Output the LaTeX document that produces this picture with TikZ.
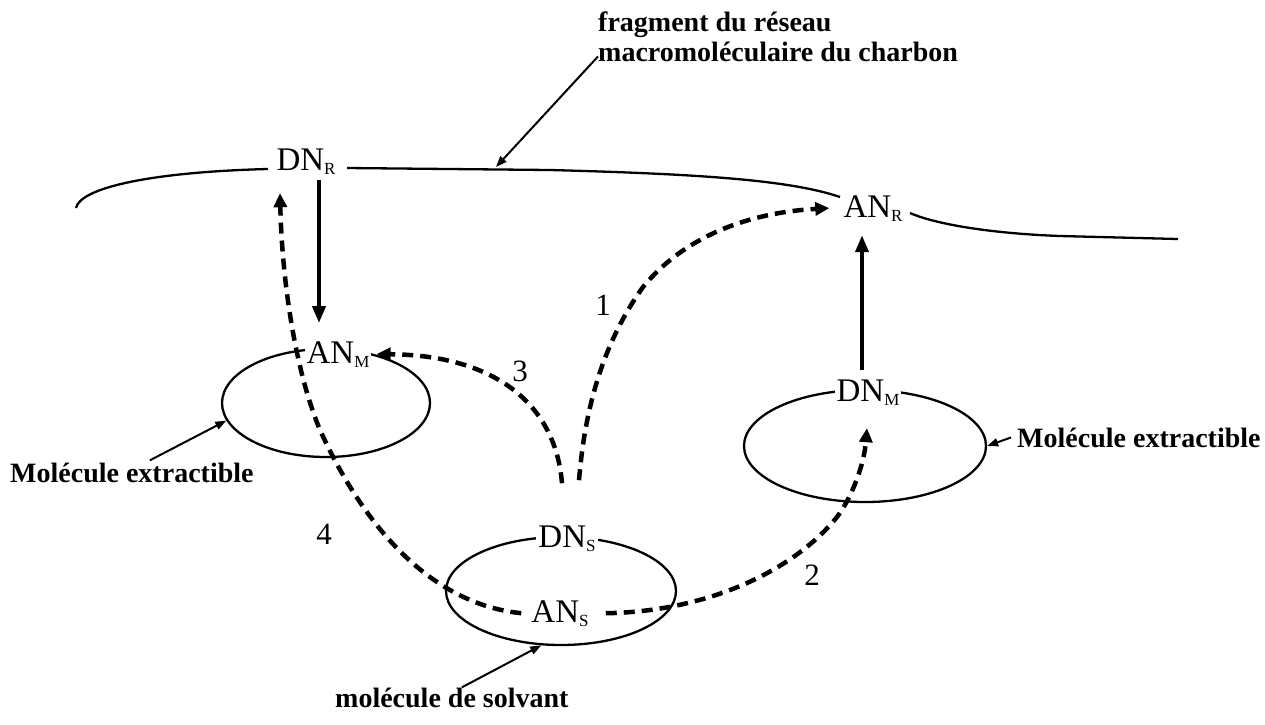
\documentclass[tikz,border=0pt]{standalone}
\usepackage{fontspec}
\setmainfont{Liberation Serif}
\usetikzlibrary{arrows.meta,shapes.geometric,calc}
\newcommand\mysub[1]{\raisebox{-4pt}{\fontsize{17}{17}\selectfont #1}}
\begin{document}
\begin{tikzpicture}[x=1pt,y=-1pt,
  chem/.style={font=\fontsize{33}{33}\selectfont, fill=white, inner sep=2pt, anchor=base},
  lbl/.style={font=\bfseries\fontsize{28}{30}\selectfont, inner sep=0pt, anchor=base west},
  num/.style={font=\fontsize{31}{31}\selectfont, inner sep=0pt},
  mol/.style={draw, ellipse, line width=2.3pt, inner sep=0pt},
  net/.style={line width=2.3pt},
  strong/.style={line width=4pt, -{Triangle[length=17pt,width=13pt]}},
  dsh/.style={line width=4.5pt, dash pattern=on 11pt off 7pt, -{Triangle[length=14pt,width=13pt]}},
  ptr/.style={line width=2pt, -{Triangle[length=11pt,width=8pt]}},
]
\useasboundingbox (0,0) rectangle (1265,724);
% network fragment
\draw[net] (76,208) .. controls (80,188) and (150,172) .. (268,169);
\draw[net] (347,168) -- (550,170) .. controls (700,174) and (790,180) .. (840,197);
\draw[net] (910,213) .. controls (930,222) and (980,233) .. (1060,236) -- (1178,239);
% molecules
\node[mol, minimum width=208pt, minimum height=108pt] (mol1) at (326,403) {};
\node[mol, minimum width=242pt, minimum height=112pt] (mol2) at (865,446) {};
\node[mol, minimum width=230pt, minimum height=108pt] (mol3) at (561,591) {};
% sites
\node[chem] (dnr) at (306,170) {DN\mysub{R}};
\node[chem] (anr) at (873,217) {AN\mysub{R}};
\node[chem] (anm) at (338,363) {AN\mysub{M}};
\node[chem] (dnm) at (868,401) {DN\mysub{M}};
\node[chem] (dns) at (567,547) {DN\mysub{S}};
\node[chem] (ans) at (560,622) {AN\mysub{S}};
% labels
\node[lbl] (fragA) at (598,31) {fragment du réseau};
\node[lbl] (fragB) at (598,61) {macromoléculaire du charbon};
\node[lbl] (labL) at (10,482) {Molécule extractible};
\node[lbl] (labR) at (1017,447) {Molécule extractible};
\node[lbl] (labS) at (335,707) {molécule de solvant};
\coordinate (netpt) at (496,167);
% pointers
\draw[ptr] ([yshift=-5pt]fragB.west) -- (netpt);
\draw[ptr] ([xshift=18pt,yshift=2pt]labL.north) -- (mol1.190);
\draw[ptr] ([xshift=-6pt]labR.west) -- (mol2.east);
\draw[ptr] ([xshift=10pt]labS.north) -- (mol3.250);
% solid transfers
\draw[strong] ([xshift=13pt,yshift=-4pt]dnr.south) -- ([xshift=-19pt,yshift=16pt]anm.north);
\draw[strong] ([xshift=-6pt,yshift=7pt]dnm.north) -- ([xshift=-11pt,yshift=-12pt]anr.south);
% dashed transfers
\draw[dsh] ([xshift=12pt,yshift=43pt]dns.north) .. controls (584,420) and (598,350) .. (643,287) .. controls (690,230) and (760,212) .. ([xshift=-12pt]anr.west);
\draw[dsh] ([xshift=15pt]ans.east) .. controls (700,612) and (790,575) .. (837,517) .. controls (852,497) and (864,465) .. ([xshift=-1pt,yshift=-21pt]dnm.south);
\draw[dsh] ([xshift=-5pt,yshift=40pt]dns.north) .. controls (555,400) and (490,355) .. ([xshift=5pt]anm.east);
\draw[dsh] ([xshift=-8pt]ans.west) .. controls (440,605) and (370,540) .. (320,430) .. controls (295,370) and (282,280) .. ([xshift=-26pt,yshift=-17pt]dnr.south);
% numbers
\node[num] (n1) at (603,305) {1};
\node[num] (n2) at (812,575) {2};
\node[num] (n3) at (520,371) {3};
\node[num] (n4) at (324,534) {4};
\end{tikzpicture}
\end{document}
